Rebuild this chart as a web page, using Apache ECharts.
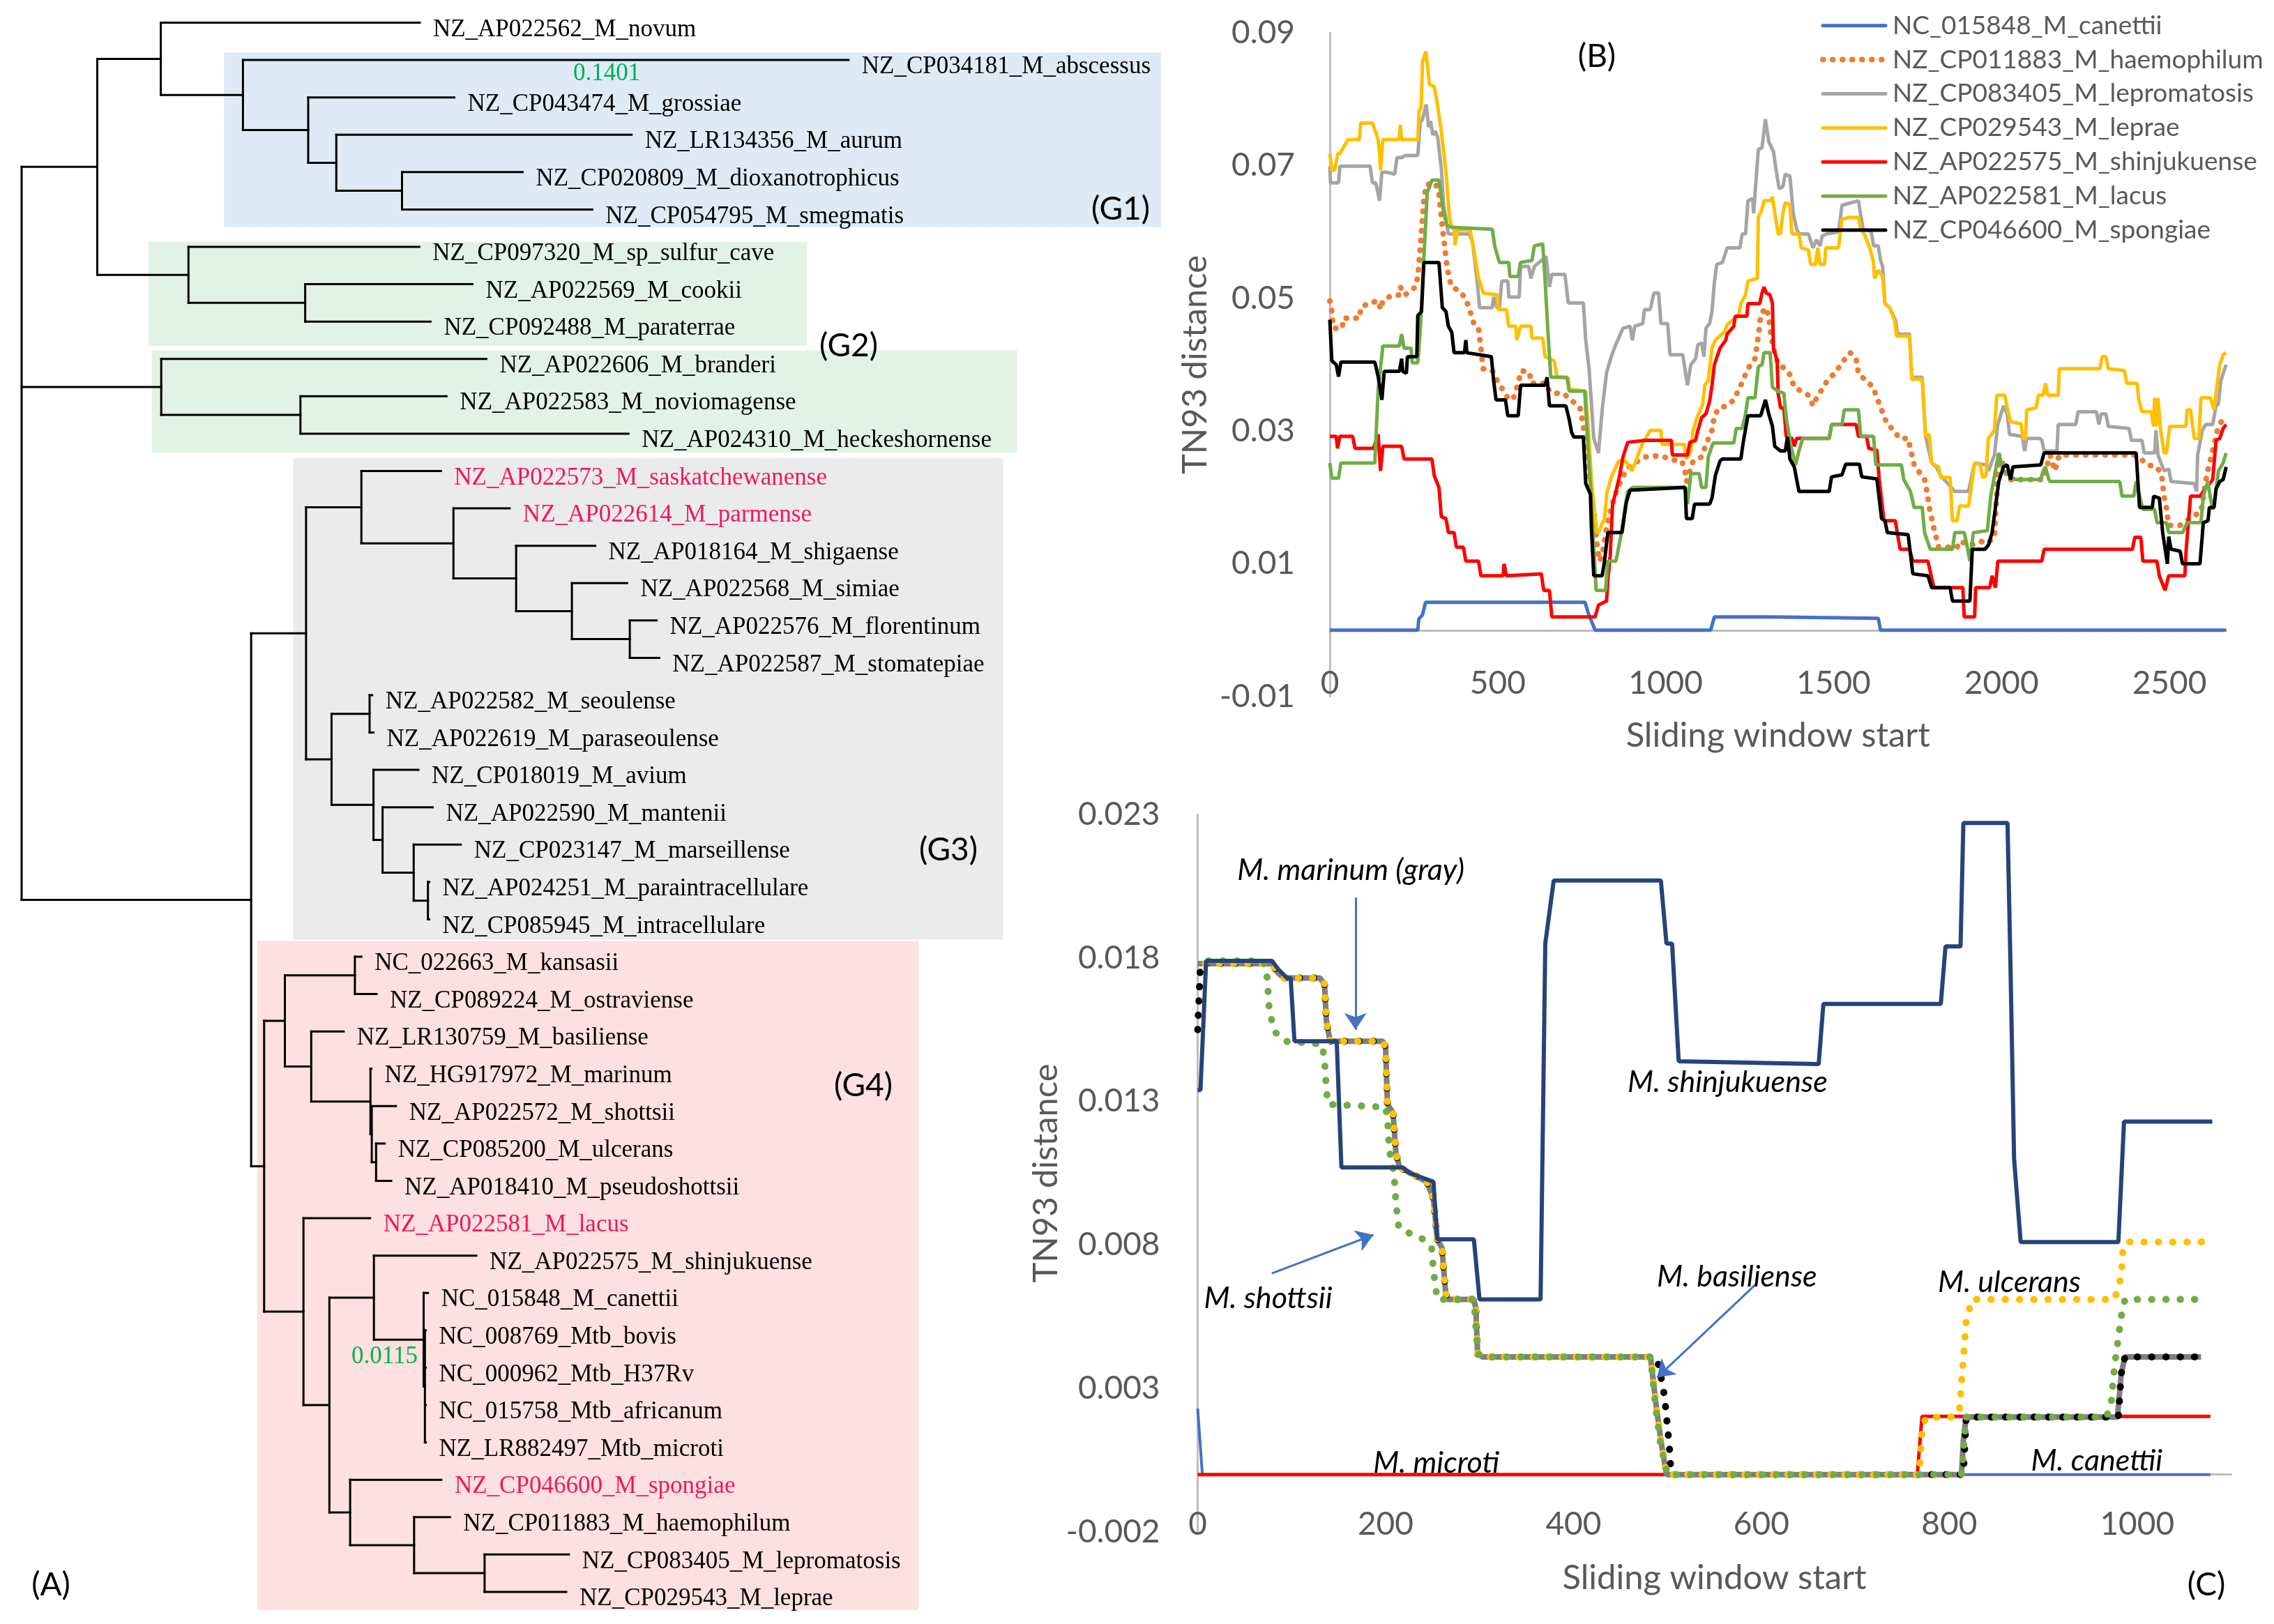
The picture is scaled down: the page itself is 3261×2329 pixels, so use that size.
<!DOCTYPE html>
<html><head><meta charset="utf-8">
<script src="https://cdn.jsdelivr.net/npm/echarts@6/dist/echarts.min.js"></script>
<style>html,body{margin:0;padding:0;background:#fff}#c{width:3261px;height:2329px}</style>
</head><body><div id="c"></div>
<script>
// ---------------- Panel A: tree (branch lengths) ----------------
const treeNewick = "(((NZ_AP022562_M_novum:0.0599,(NZ_CP034181_M_abscessus:0.1401,(NZ_CP043474_M_grossiae:0.0338,(NZ_LR134356_M_aurum:0.0683,(NZ_CP020809_M_dioxanotrophicus:0.0279,NZ_CP054795_M_smegmatis:0.0440):0.0152):0.0065):0.0151):0.0190):0.0147,(NZ_CP097320_M_sp_sulfur_cave:0.0534,(NZ_AP022569_M_cookii:0.0387,NZ_CP092488_M_paraterrae:0.0290):0.0270):0.0211):0.0175,(NZ_AP022606_M_branderi:0.0752,(NZ_AP022583_M_noviomagense:0.0338,NZ_AP024310_M_heckeshornense:0.0759):0.0322):0.0323,(((NZ_AP022573_M_saskatchewanense:0.0184,(NZ_AP022614_M_parmense:0.0130,(NZ_AP018164_M_shigaense:0.0183,(NZ_AP022568_M_simiae:0.0128,(NZ_AP022576_M_florentinum:0.0062,NZ_AP022587_M_stomatepiae:0.0068):0.0134):0.0129):0.0145):0.0213):0.0128,((NZ_AP022582_M_seoulense:0.0006,NZ_AP022619_M_paraseoulense:0.0009):0.0088,(NZ_CP018019_M_avium:0.0104,(NZ_AP022590_M_mantenii:0.0116,(NZ_CP023147_M_marseillense:0.0109,(NZ_AP024251_M_paraintracellulare:0.0003,NZ_CP085945_M_intracellulare:0.0003):0.0033):0.0072):0.0021):0.0097):0.0059):0.0127,(((NC_022663_M_kansasii:0.0015,NZ_CP089224_M_ostraviense:0.0050):0.0162,(NZ_LR130759_M_basiliense:0.0075,(NZ_HG917972_M_marinum:0.0002,(NZ_AP022572_M_shottsii:0.0056,(NZ_CP085200_M_ulcerans:0.0020,NZ_AP018410_M_pseudoshottsii:0.0035):0.0010):0.0003):0.0137):0.0061):0.0048,(NZ_AP022581_M_lacus:0.0154,((NZ_AP022575_M_shinjukuense:0.0237,(NC_015848_M_canettii:0.0010,(NC_008769_Mtb_bovis:0.0002,NC_000962_Mtb_H37Rv:0.0002,NC_015758_Mtb_africanum:0.0002,NZ_LR882497_Mtb_microti:0.0002):0.0003):0.0115):0.0103,(NZ_CP046600_M_spongiae:0.0211,(NZ_CP011883_M_haemophilum:0.0083,(NZ_CP083405_M_lepromatosis:0.0195,NZ_CP029543_M_leprae:0.0189):0.0163):0.0148):0.0048):0.0060):0.0091):0.0030):0.0531);";
const redLeaves = ["NZ_AP022573_M_saskatchewanense","NZ_AP022614_M_parmense","NZ_AP022581_M_lacus","NZ_CP046600_M_spongiae"];
// group boxes: [x from, x to (branch-length units), first row, last row]
const groupBoxes = [
  [0.0468, 0.2636, 0.80, 5.47],
  [0.0293, 0.1817, 5.87, 8.65],
  [0.0301, 0.2303, 8.77, 11.51],
  [0.0628, 0.2271, 11.66, 24.54],
  [0.0545, 0.2075, 24.58, 42.48]
];
const groupColors = ['#DEEBF7','#E1F3E7','#E1F3E7','#EBEBEB','#FDE0E0'];

// ---------------- Panel B ----------------
const bCanettii = [[0,0],[262,0],[265,0.0017],[276,0.0023],[285,0.0042],[760,0.0042],[770,0.0025],[790,0],[1134,0],[1145,0.0020],[1320,0.0020],[1322,0.0018],[1633,0.0018],[1640,0],[2669,0]];
const bHaemophilum = [[0,0.0496],[6,0.0480],[9,0.0465],[12,0.0455],[37,0.0455],[40,0.0470],[89,0.0470],[92,0.0486],[117,0.0493],[144,0.0496],[151,0.0483],[158,0.0496],[165,0.0499],[183,0.0504],[207,0.0505],[210,0.0517],[224,0.0505],[255,0.0517],[262,0.0533],[269,0.0573],[276,0.0622],[280,0.0647],[287,0.0671],[314,0.0674],[325,0.0659],[332,0.0622],[339,0.0591],[346,0.0560],[349,0.0548],[356,0.0529],[363,0.0517],[387,0.0511],[401,0.0502],[415,0.0486],[418,0.0480],[429,0.0462],[443,0.0455],[446,0.0440],[450,0.0425],[453,0.0409],[457,0.0394],[484,0.0391],[502,0.0372],[519,0.0360],[533,0.0347],[547,0.0350],[557,0.0366],[571,0.0391],[595,0.0388],[599,0.0372],[644,0.0372],[654,0.0360],[668,0.0357],[693,0.0357],[713,0.0350],[731,0.0341],[745,0.0335],[755,0.0308],[769,0.0246],[786,0.0178],[797,0.0122],[804,0.0104],[814,0.0122],[824,0.0153],[835,0.0178],[849,0.0203],[866,0.0224],[883,0.0243],[908,0.0252],[939,0.0261],[982,0.0263],[1034,0.0255],[1048,0.0255],[1058,0.0240],[1062,0.0224],[1082,0.0255],[1107,0.0261],[1120,0.0280],[1138,0.0301],[1145,0.0323],[1159,0.0335],[1183,0.0338],[1203,0.0347],[1224,0.0369],[1245,0.0394],[1266,0.0409],[1276,0.0443],[1283,0.0474],[1297,0.0486],[1307,0.0474],[1314,0.0443],[1321,0.0425],[1335,0.0400],[1356,0.0394],[1370,0.0385],[1383,0.0366],[1425,0.0354],[1439,0.0338],[1453,0.0354],[1466,0.0363],[1480,0.0375],[1508,0.0390],[1525,0.0403],[1549,0.0418],[1567,0.0409],[1574,0.0387],[1598,0.0375],[1619,0.0366],[1626,0.0354],[1643,0.0332],[1660,0.0310],[1681,0.0301],[1695,0.0289],[1722,0.0289],[1729,0.0273],[1740,0.0249],[1771,0.0227],[1778,0.0209],[1785,0.0185],[1799,0.0153],[1813,0.0125],[1868,0.0125],[1875,0.0134],[1909,0.0128],[1937,0.0134],[1958,0.0131],[1979,0.0140],[1992,0.0264],[2006,0.0249],[2020,0.0227],[2124,0.0227],[2131,0.0240],[2145,0.0264],[2159,0.0240],[2172,0.0264],[2394,0.0264],[2415,0.0258],[2435,0.0249],[2463,0.0246],[2477,0.0233],[2484,0.0202],[2491,0.0184],[2498,0.0158],[2532,0.0158],[2567,0.0171],[2594,0.0178],[2612,0.0236],[2626,0.0264],[2643,0.0301],[2657,0.0317],[2669,0.0317]];
const bLepromatosis = [[0,0.0699],[2,0.0674],[26,0.0674],[30,0.0699],[120,0.0699],[127,0.0674],[137,0.0674],[148,0.0647],[155,0.0690],[169,0.0690],[193,0.0687],[200,0.0712],[214,0.0712],[224,0.0715],[262,0.0715],[269,0.0764],[276,0.0770],[287,0.0792],[294,0.0758],[300,0.0767],[307,0.0746],[314,0.0752],[321,0.0743],[332,0.0696],[339,0.0640],[349,0.0610],[353,0.0597],[415,0.0597],[425,0.0585],[439,0.0524],[446,0.0486],[484,0.0486],[488,0.0502],[498,0.0486],[505,0.0486],[512,0.0526],[530,0.0526],[533,0.0502],[564,0.0502],[568,0.0548],[592,0.0548],[599,0.0530],[609,0.0548],[644,0.0563],[654,0.0517],[661,0.0536],[700,0.0536],[710,0.0493],[755,0.0493],[762,0.0437],[772,0.0394],[786,0.0289],[800,0.0267],[811,0.0332],[824,0.0388],[838,0.0412],[852,0.0431],[873,0.0455],[894,0.0458],[901,0.0437],[908,0.0458],[932,0.0462],[937,0.0483],[954,0.0483],[965,0.0508],[979,0.0508],[986,0.0462],[1006,0.0462],[1013,0.0415],[1051,0.0415],[1065,0.0369],[1075,0.0400],[1089,0.0409],[1096,0.0430],[1107,0.0433],[1114,0.0412],[1120,0.0455],[1131,0.0462],[1138,0.0480],[1145,0.0524],[1152,0.0551],[1169,0.0554],[1183,0.0576],[1221,0.0576],[1228,0.0597],[1238,0.0597],[1245,0.0647],[1259,0.0650],[1262,0.0628],[1269,0.0677],[1276,0.0724],[1287,0.0727],[1297,0.0770],[1307,0.0736],[1321,0.0721],[1328,0.0696],[1338,0.0665],[1349,0.0668],[1356,0.0687],[1370,0.0684],[1380,0.0628],[1390,0.0604],[1397,0.0597],[1425,0.0597],[1439,0.0576],[1449,0.0588],[1460,0.0579],[1466,0.0594],[1480,0.0597],[1515,0.0600],[1525,0.0640],[1574,0.0647],[1581,0.0625],[1588,0.0604],[1612,0.0601],[1619,0.0579],[1633,0.0579],[1640,0.0557],[1646,0.0548],[1653,0.0492],[1667,0.0486],[1684,0.0467],[1691,0.0446],[1726,0.0446],[1733,0.0381],[1764,0.0381],[1774,0.0292],[1792,0.0252],[1806,0.0246],[1819,0.0233],[1861,0.0209],[1902,0.0209],[1920,0.0252],[1954,0.0249],[1961,0.0240],[1979,0.0264],[1989,0.0310],[2006,0.0338],[2017,0.0326],[2024,0.0295],[2062,0.0292],[2069,0.0270],[2075,0.0289],[2114,0.0289],[2120,0.0286],[2127,0.0270],[2165,0.0270],[2169,0.0310],[2221,0.0310],[2228,0.0329],[2283,0.0329],[2290,0.0310],[2297,0.0326],[2311,0.0326],[2318,0.0307],[2380,0.0304],[2387,0.0286],[2418,0.0286],[2425,0.0267],[2456,0.0267],[2460,0.0301],[2466,0.0264],[2484,0.0240],[2498,0.0243],[2505,0.0224],[2574,0.0221],[2581,0.0209],[2584,0.0264],[2598,0.0301],[2608,0.0310],[2629,0.0310],[2639,0.0338],[2646,0.0341],[2653,0.0375],[2664,0.0393],[2669,0.0400]];
const bLeprae = [[0,0.0718],[6,0.0693],[14,0.0693],[24,0.0718],[30,0.0718],[54,0.0739],[88,0.0739],[92,0.0764],[127,0.0764],[144,0.0739],[148,0.0720],[151,0.0693],[158,0.0739],[206,0.0739],[210,0.0761],[214,0.0739],[262,0.0739],[266,0.0782],[272,0.0788],[276,0.0856],[286,0.0872],[297,0.0822],[311,0.0819],[318,0.0800],[332,0.0752],[346,0.0690],[356,0.0622],[363,0.0607],[370,0.0607],[373,0.0580],[380,0.0603],[418,0.0603],[429,0.0573],[443,0.0530],[457,0.0508],[498,0.0505],[502,0.0483],[526,0.0483],[533,0.0458],[554,0.0458],[557,0.0437],[568,0.0458],[599,0.0458],[602,0.0440],[634,0.0440],[641,0.0412],[668,0.0406],[675,0.0385],[680,0.0381],[710,0.0380],[713,0.0363],[762,0.0360],[770,0.0300],[780,0.0220],[794,0.0147],[800,0.0148],[818,0.0168],[825,0.0208],[840,0.0233],[860,0.0255],[880,0.0255],[900,0.0240],[911,0.0255],[930,0.0280],[954,0.0301],[986,0.0301],[989,0.0280],[1055,0.0280],[1062,0.0258],[1075,0.0270],[1082,0.0301],[1093,0.0320],[1110,0.0340],[1117,0.0370],[1127,0.0376],[1138,0.0425],[1148,0.0437],[1176,0.0450],[1183,0.0460],[1203,0.0469],[1217,0.0474],[1224,0.0492],[1238,0.0505],[1245,0.0526],[1273,0.0530],[1276,0.0622],[1287,0.0634],[1293,0.0647],[1314,0.0647],[1318,0.0653],[1325,0.0628],[1335,0.0597],[1342,0.0597],[1349,0.0628],[1356,0.0644],[1370,0.0641],[1376,0.0597],[1397,0.0597],[1404,0.0576],[1425,0.0573],[1432,0.0551],[1446,0.0551],[1453,0.0576],[1460,0.0551],[1473,0.0551],[1477,0.0576],[1515,0.0576],[1525,0.0619],[1549,0.0622],[1574,0.0622],[1581,0.0604],[1591,0.0597],[1608,0.0576],[1619,0.0554],[1622,0.0530],[1633,0.0542],[1646,0.0533],[1653,0.0492],[1667,0.0486],[1681,0.0467],[1688,0.0443],[1726,0.0443],[1733,0.0378],[1764,0.0378],[1774,0.0292],[1785,0.0295],[1792,0.0252],[1813,0.0246],[1819,0.0230],[1847,0.0230],[1854,0.0165],[1868,0.0165],[1875,0.0187],[1902,0.0187],[1920,0.0252],[1937,0.0249],[1944,0.0230],[1954,0.0233],[1961,0.0289],[1979,0.0301],[1986,0.0354],[2010,0.0354],[2017,0.0335],[2027,0.0314],[2058,0.0311],[2065,0.0289],[2072,0.0289],[2075,0.0332],[2103,0.0335],[2110,0.0354],[2124,0.0354],[2131,0.0372],[2138,0.0354],[2169,0.0354],[2172,0.0394],[2293,0.0394],[2300,0.0412],[2311,0.0412],[2318,0.0394],[2366,0.0391],[2373,0.0372],[2404,0.0372],[2408,0.0350],[2418,0.0329],[2446,0.0329],[2453,0.0307],[2456,0.0350],[2460,0.0307],[2466,0.0350],[2473,0.0304],[2484,0.0267],[2491,0.0267],[2501,0.0307],[2549,0.0307],[2553,0.0332],[2563,0.0332],[2574,0.0289],[2588,0.0289],[2594,0.0350],[2622,0.0350],[2633,0.0332],[2639,0.0357],[2650,0.0400],[2660,0.0415],[2669,0.0418]];
const bShinjukuense = [[0,0.0292],[19,0.0292],[23,0.0274],[30,0.0292],[68,0.0292],[75,0.0274],[130,0.0274],[144,0.0295],[151,0.0240],[158,0.0277],[214,0.0277],[221,0.0258],[304,0.0258],[311,0.0233],[325,0.0215],[332,0.0171],[346,0.0168],[353,0.0147],[370,0.0147],[377,0.0125],[398,0.0125],[405,0.0104],[443,0.0104],[450,0.0082],[516,0.0082],[519,0.0100],[526,0.0082],[630,0.0085],[637,0.0060],[654,0.0060],[661,0.0020],[790,0.0020],[800,0.0038],[824,0.0044],[828,0.0076],[835,0.0113],[842,0.0190],[852,0.0209],[863,0.0233],[873,0.0261],[887,0.0283],[939,0.0286],[1017,0.0286],[1020,0.0264],[1065,0.0264],[1072,0.0283],[1089,0.0286],[1096,0.0301],[1107,0.0320],[1120,0.0326],[1131,0.0345],[1138,0.0369],[1145,0.0400],[1162,0.0425],[1179,0.0437],[1183,0.0446],[1203,0.0458],[1207,0.0473],[1242,0.0473],[1245,0.0492],[1280,0.0492],[1287,0.0508],[1293,0.0517],[1300,0.0508],[1311,0.0505],[1318,0.0492],[1321,0.0425],[1332,0.0406],[1335,0.0357],[1342,0.0335],[1352,0.0335],[1359,0.0292],[1376,0.0289],[1383,0.0277],[1390,0.0289],[1487,0.0289],[1494,0.0310],[1567,0.0310],[1574,0.0292],[1598,0.0292],[1605,0.0274],[1629,0.0271],[1636,0.0227],[1650,0.0165],[1684,0.0165],[1691,0.0143],[1698,0.0122],[1726,0.0122],[1736,0.0104],[1781,0.0104],[1792,0.0079],[1799,0.0064],[1885,0.0064],[1889,0.0020],[1920,0.0020],[1923,0.0064],[1965,0.0064],[1972,0.0082],[1982,0.0064],[1989,0.0104],[2120,0.0104],[2127,0.0122],[2390,0.0122],[2397,0.0140],[2415,0.0140],[2421,0.0104],[2463,0.0104],[2470,0.0082],[2487,0.0060],[2498,0.0082],[2546,0.0082],[2550,0.0122],[2563,0.0202],[2591,0.0202],[2629,0.0227],[2639,0.0286],[2650,0.0289],[2660,0.0304],[2669,0.0310]];
const bLacus = [[0,0.0252],[6,0.0229],[26,0.0229],[33,0.0252],[134,0.0252],[144,0.0363],[158,0.0428],[207,0.0428],[214,0.0446],[221,0.0425],[242,0.0425],[245,0.0403],[262,0.0403],[269,0.0450],[280,0.0560],[290,0.0659],[304,0.0678],[325,0.0678],[339,0.0629],[349,0.0610],[363,0.0607],[484,0.0604],[491,0.0579],[505,0.0554],[533,0.0554],[536,0.0533],[561,0.0533],[568,0.0554],[602,0.0557],[609,0.0579],[634,0.0582],[640,0.0536],[651,0.0437],[658,0.0381],[706,0.0381],[713,0.0360],[759,0.0360],[766,0.0301],[776,0.0218],[793,0.0060],[821,0.0060],[828,0.0104],[852,0.0104],[866,0.0140],[877,0.0178],[887,0.0209],[901,0.0215],[1058,0.0215],[1065,0.0190],[1075,0.0236],[1100,0.0236],[1107,0.0215],[1120,0.0215],[1127,0.0261],[1141,0.0282],[1203,0.0282],[1210,0.0304],[1228,0.0304],[1238,0.0326],[1245,0.0350],[1266,0.0350],[1276,0.0397],[1287,0.0400],[1293,0.0418],[1311,0.0418],[1318,0.0366],[1335,0.0360],[1352,0.0357],[1359,0.0320],[1373,0.0277],[1387,0.0249],[1397,0.0270],[1408,0.0289],[1487,0.0289],[1494,0.0310],[1525,0.0310],[1532,0.0332],[1574,0.0332],[1581,0.0292],[1619,0.0292],[1626,0.0249],[1702,0.0249],[1709,0.0227],[1729,0.0209],[1740,0.0185],[1764,0.0185],[1771,0.0147],[1788,0.0122],[1854,0.0122],[1861,0.0147],[1889,0.0147],[1896,0.0131],[1906,0.0104],[1916,0.0147],[1958,0.0150],[1968,0.0202],[1982,0.0240],[1992,0.0267],[1999,0.0252],[2006,0.0240],[2041,0.0227],[2117,0.0227],[2124,0.0240],[2131,0.0246],[2141,0.0227],[2145,0.0224],[2352,0.0224],[2359,0.0202],[2394,0.0202],[2401,0.0224],[2421,0.0182],[2456,0.0182],[2463,0.0162],[2491,0.0162],[2498,0.0147],[2539,0.0147],[2553,0.0162],[2594,0.0162],[2601,0.0202],[2615,0.0224],[2622,0.0199],[2629,0.0182],[2636,0.0202],[2646,0.0240],[2660,0.0252],[2669,0.0267]];
const bSpongiae = [[0,0.0468],[6,0.0406],[19,0.0400],[26,0.0382],[33,0.0404],[134,0.0404],[144,0.0382],[155,0.0347],[162,0.0390],[207,0.0390],[214,0.0409],[217,0.0390],[228,0.0387],[231,0.0412],[259,0.0412],[262,0.0474],[273,0.0480],[280,0.0554],[325,0.0554],[335,0.0486],[346,0.0480],[353,0.0458],[363,0.0449],[370,0.0418],[401,0.0418],[405,0.0437],[408,0.0418],[481,0.0412],[488,0.0375],[495,0.0347],[523,0.0347],[530,0.0323],[561,0.0323],[568,0.0369],[641,0.0369],[647,0.0381],[654,0.0338],[703,0.0338],[713,0.0317],[720,0.0298],[727,0.0291],[755,0.0291],[762,0.0221],[776,0.0205],[779,0.0153],[786,0.0082],[811,0.0082],[818,0.0104],[828,0.0147],[870,0.0147],[883,0.0193],[894,0.0211],[1058,0.0215],[1062,0.0168],[1079,0.0168],[1086,0.0190],[1131,0.0190],[1138,0.0199],[1148,0.0233],[1162,0.0255],[1169,0.0258],[1224,0.0258],[1231,0.0283],[1245,0.0323],[1283,0.0323],[1297,0.0347],[1307,0.0326],[1318,0.0307],[1325,0.0277],[1342,0.0270],[1356,0.0270],[1363,0.0291],[1370,0.0258],[1383,0.0246],[1397,0.0209],[1487,0.0209],[1494,0.0231],[1525,0.0234],[1536,0.0250],[1577,0.0250],[1584,0.0231],[1629,0.0228],[1643,0.0168],[1653,0.0165],[1660,0.0147],[1722,0.0144],[1736,0.0085],[1781,0.0082],[1792,0.0064],[1847,0.0064],[1854,0.0044],[1906,0.0044],[1913,0.0122],[1951,0.0122],[1961,0.0128],[1972,0.0147],[1982,0.0185],[1992,0.0224],[2006,0.0246],[2017,0.0249],[2027,0.0227],[2034,0.0246],[2117,0.0249],[2127,0.0267],[2401,0.0267],[2411,0.0185],[2449,0.0185],[2453,0.0202],[2470,0.0199],[2480,0.0147],[2494,0.0100],[2498,0.0141],[2505,0.0122],[2532,0.0119],[2539,0.0100],[2591,0.0100],[2601,0.0162],[2615,0.0165],[2619,0.0185],[2633,0.0185],[2639,0.0213],[2650,0.0224],[2660,0.0227],[2669,0.0246]];
const bYTicks = [-0.01, 0.09, 0.02];   // min, max, step
const bXTicks = [0, 2669, 500];

// ---------------- Panel C ----------------
const cShinjukuense = [[0,0.0134],[3,0.0134],[9,0.0179],[79,0.0179],[86,0.0176],[95,0.0173],[99,0.0173],[103,0.0151],[148,0.0151],[153,0.0107],[218,0.0107],[226,0.0105],[251,0.0102],[255,0.0082],[294,0.0082],[300,0.0061],[365,0.0061],[370,0.0185],[379,0.0207],[493,0.0207],[499,0.0185],[505,0.0185],[512,0.0144],[661,0.0143],[666,0.0164],[791,0.0164],[796,0.0184],[812,0.0184],[815,0.0227],[862,0.0227],[865,0.0180],[869,0.0110],[876,0.0081],[980,0.0081],[986,0.0123],[1080,0.0123]];
const cCanettii = [[0,0.0023],[5,0],[1078,0]];
const cMicroti = [[0,0],[766,0],[771,0.00203],[1078,0.00203]];
const cMarinum = [[0,0.0178],[79,0.0178],[85,0.0175],[92,0.0173],[130,0.0173],[135,0.0171],[137,0.0158],[141,0.0151],[197,0.0151],[200,0.0149],[202,0.0129],[208,0.0126],[211,0.0112],[215,0.0107],[244,0.0102],[251,0.0096],[255,0.0082],[260,0.0079],[264,0.0063],[266,0.0061],[294,0.0061],[296,0.0058],[298,0.0042],[303,0.0041],[482,0.0041],[488,0.0024],[493,0.0012],[499,0],[813,0],[815,0.0012],[818,0.0020],[979,0.0020],[983,0.0035],[987,0.0041],[1068,0.0041]];
const cBasiliense = [[0,0.0155],[3,0.0178],[79,0.0178],[85,0.0175],[92,0.0173],[130,0.0173],[135,0.0171],[137,0.0158],[141,0.0151],[197,0.0151],[200,0.0149],[202,0.0129],[208,0.0126],[211,0.0112],[215,0.0107],[244,0.0102],[251,0.0096],[255,0.0082],[260,0.0079],[264,0.0063],[266,0.0061],[294,0.0061],[296,0.0058],[298,0.0042],[303,0.0041],[486,0.0041],[491,0.0038],[497,0.0027],[502,0.0010],[504,0],[815,0],[818,0.0020],[980,0.0020],[983,0.0035],[987,0.0041],[1075,0.0041]];
const cUlcerans = [[0,0.0178],[79,0.0178],[85,0.0175],[92,0.0173],[130,0.0173],[135,0.0171],[137,0.0158],[141,0.0151],[197,0.0151],[200,0.0149],[202,0.0129],[208,0.0126],[211,0.0112],[215,0.0107],[244,0.0102],[251,0.0096],[255,0.0082],[260,0.0079],[264,0.0063],[266,0.0061],[294,0.0061],[296,0.0058],[298,0.0042],[303,0.0041],[482,0.0041],[488,0.0024],[493,0.0012],[499,0],[768,0],[771,0.0015],[775,0.0020],[806,0.0020],[811,0.0023],[813,0.0032],[818,0.0053],[824,0.0061],[976,0.0061],[983,0.0069],[985,0.0079],[990,0.0081],[1073,0.0081]];
const cShottsii = [[0,0.0179],[70,0.0179],[74,0.0173],[76,0.0163],[79,0.0158],[83,0.0154],[92,0.0151],[132,0.0150],[135,0.0145],[137,0.0134],[139,0.0129],[200,0.0128],[202,0.0124],[204,0.0113],[209,0.0105],[211,0.0095],[214,0.0086],[226,0.0084],[240,0.0082],[249,0.0079],[251,0.0071],[255,0.0061],[294,0.0061],[296,0.0052],[299,0.0042],[303,0.0041],[482,0.0041],[488,0.0022],[493,0.0010],[500,0],[813,0],[815,0.0008],[817,0.0016],[818,0.0020],[967,0.0020],[972,0.0024],[976,0.0038],[983,0.0055],[987,0.0061],[1064,0.0061]];
const cYTicks = [-0.002, 0.023, 0.005];
const cXTicks = [0, 1100, 200];
const cNotes = [['M. marinum (gray)',163,0.02106],['M. shottsii',75,0.00613],['M. basiliense',574,0.0069],['M. shinjukuense',564,0.01366],['M. ulcerans',864,0.0067],['M. microti',254,0.00041],['M. canettii',957,0.00048]];
const cArrows = [[[168,0.0201],[168,0.0155]],[[79,0.00701],[187,0.00835]],[[595,0.00666],[489,0.00338]]];

// ---------------- build tree layout ----------------
function parseNewick(str){
  const s = str.replace(/\s+/g,''); let i = 0;
  function node(){
    const n = {children:[], name:'', len:0};
    if (s[i] === '('){ i++; n.children.push(node()); while (s[i] === ','){ i++; n.children.push(node()); } i++; }
    let name=''; while (i < s.length && ',():;'.indexOf(s[i]) < 0) name += s[i++];
    n.name = name;
    if (s[i] === ':'){ i++; let num=''; while (i < s.length && ',();'.indexOf(s[i]) < 0) num += s[i++]; n.len = parseFloat(num); }
    return n;
  }
  return node();
}
const leafNames = [];
const treeItems = [];
(function layout(){
  const root = parseNewick(treeNewick);
  function walk(n, px){
    n.x = px + n.len;
    if (!n.children.length){ n.y = leafNames.length; n.leaf = leafNames.length; leafNames.push(n.name); }
    else { n.children.forEach(c => walk(c, n.x)); n.y = (n.children[0].y + n.children[n.children.length-1].y)/2; }
    const yMin = n.children.length ? n.children[0].y : n.y;
    const yMax = n.children.length ? n.children[n.children.length-1].y : n.y;
    treeItems.push([px, n.x, n.y, yMin, yMax, n.children.length ? -1 : n.leaf]);
  }
  root.len = 0; walk(root, 0);
})();

const chart = echarts.init(document.getElementById('c'), null, {renderer:'canvas', width:3261, height:2329, devicePixelRatio:1});
const gray = '#595959', font = 'Lato';
const fmt = d => (v => { const s = v.toFixed(d); return s === '-0.' + '0'.repeat(d) ? (0).toFixed(d) : s; });
const plain = v => String(Math.round(v));

function lineSeries(name, data, color, width, xi, yi, extra){
  return Object.assign({type:'line', name, data, xAxisIndex:xi, yAxisIndex:yi, symbol:'none', showSymbol:false,
    lineStyle:{color, width}, itemStyle:{color}, animation:false, z:3}, extra || {});
}
const dotB = {type:[0.5,13.5], cap:'round'};
const bSeriesList = [
  lineSeries('NC_015848_M_canettii', bCanettii, '#4472C4', 5, 1, 1),
  lineSeries('NZ_CP011883_M_haemophilum', bHaemophilum, '#ED7D31', 8, 1, 1, {lineStyle:Object.assign({color:'#ED7D31', width:8}, dotB)}),
  lineSeries('NZ_CP083405_M_lepromatosis', bLepromatosis, '#A5A5A5', 5, 1, 1),
  lineSeries('NZ_CP029543_M_leprae', bLeprae, '#FFC000', 5, 1, 1),
  lineSeries('NZ_AP022575_M_shinjukuense', bShinjukuense, '#FF0000', 5, 1, 1),
  lineSeries('NZ_AP022581_M_lacus', bLacus, '#70AD47', 5, 1, 1),
  lineSeries('NZ_CP046600_M_spongiae', bSpongiae, '#000000', 5, 1, 1)
];
const dotC = (c, off) => ({color:c, width:10, type:[0.5,20], cap:'round', dashOffset:off});
const cSeriesList = [
  lineSeries('C canettii', cCanettii, '#4472C4', 4, 3, 2),
  lineSeries('C microti', cMicroti, '#FF0000', 5, 3, 2),
  lineSeries('C marinum', cMarinum, '#7F7F7F', 8, 3, 2),
  lineSeries('C basiliense', cBasiliense, '#000000', 10, 3, 2, {lineStyle:dotC('#000000', 0)}),
  lineSeries('C ulcerans', cUlcerans, '#FFC000', 10, 3, 2, {lineStyle:dotC('#FFC000', 10)}),
  lineSeries('C shottsii', cShottsii, '#70AD47', 10, 3, 2, {lineStyle:dotC('#70AD47', 5)}),
  lineSeries('C shinjukuense', cShinjukuense, '#264478', 6, 3, 2)
];
const gText = (t, x, y, f, fill, align) => ({type:'text', z:100, zlevel:0, x, y,
  style:{text:t, font:f, fill:fill || '#000', align:align || 'center', verticalAlign:'middle'}});

const option = {
  animation:false,
  backgroundColor:'#ffffff',
  grid:[
    {left:31, top:32.5, width:1673.7, height:2250.4},
    {left:1907, top:47, width:1285.4, height:952},
    {left:1717.5, top:1168, width:1482, height:1029}
  ],
  xAxis:[
    {gridIndex:0, type:'value', min:0, max:0.27, show:false},
    {gridIndex:1, type:'value', min:bXTicks[0], max:bXTicks[1], position:'bottom',
      axisLine:{show:true, onZero:true, lineStyle:{color:'#BFBFBF', width:3}}, axisTick:{show:false}, axisLabel:{show:false}, splitLine:{show:false}},
    {gridIndex:1, type:'value', min:bXTicks[0], max:bXTicks[1], interval:bXTicks[2], position:'bottom',
      axisLine:{show:false, onZero:false}, axisTick:{show:false}, splitLine:{show:false},
      axisLabel:{margin:-42, showMaxLabel:false, color:gray, fontSize:46, fontFamily:font, formatter:plain},
      name:'Sliding window start', nameLocation:'middle', nameGap:32, nameTextStyle:{color:gray, fontSize:49, fontFamily:font}},
    {gridIndex:2, type:'value', min:cXTicks[0], max:cXTicks[1], position:'bottom',
      axisLine:{show:true, onZero:true, lineStyle:{color:'#BFBFBF', width:3}}, axisTick:{show:false}, axisLabel:{show:false}, splitLine:{show:false}},
    {gridIndex:2, type:'value', min:cXTicks[0], max:cXTicks[1], interval:cXTicks[2], position:'bottom',
      axisLine:{show:false, onZero:false}, axisTick:{show:false}, splitLine:{show:false},
      axisLabel:{margin:-34, showMaxLabel:false, color:gray, fontSize:46, fontFamily:font, formatter:plain},
      name:'Sliding window start', nameLocation:'middle', nameGap:42, nameTextStyle:{color:gray, fontSize:49, fontFamily:font}}
  ],
  yAxis:[
    {gridIndex:0, type:'value', min:0, max:42, inverse:true, show:false},
    {gridIndex:1, type:'value', min:bYTicks[0], max:bYTicks[1], interval:bYTicks[2],
      axisLine:{show:true, lineStyle:{color:'#BFBFBF', width:3}}, axisTick:{show:false}, splitLine:{show:false},
      axisLabel:{margin:50, color:gray, fontSize:46, fontFamily:font, formatter:fmt(2)},
      name:'TN93 distance', nameLocation:'middle', nameGap:168, nameTextStyle:{color:gray, fontSize:49, fontFamily:font}},
    {gridIndex:2, type:'value', min:cYTicks[0], max:cYTicks[1], interval:cYTicks[2],
      axisLine:{show:true, lineStyle:{color:'#BFBFBF', width:3}}, axisTick:{show:false}, splitLine:{show:false},
      axisLabel:{margin:54, color:gray, fontSize:46, fontFamily:font, formatter:fmt(3)},
      name:'TN93 distance', nameLocation:'middle', nameGap:173, nameTextStyle:{color:gray, fontSize:49, fontFamily:font}}
  ],
  legend:{
    data:bSeriesList.map(s => ({name:s.name, itemStyle:{opacity:0},
      lineStyle:{width:s.lineStyle.width, color:s.lineStyle.color, type:s.lineStyle.type || 'solid', cap:'round'}})),
    orient:'vertical', left:2605, top:11.7,
    itemWidth:90, itemHeight:20, itemGap:8.9,
    textStyle:{color:gray, fontSize:37, fontFamily:font, lineHeight:40, padding:[0,0,0,5]}
  },
  graphic:[
    gText('(A)', 73, 2273, '46px Lato'),
    gText('(B)', 2290, 81, '46px Lato'),
    gText('(C)', 3164, 2273, '46px Lato'),
    gText('(G1)', 1607, 300, '46px Lato'),
    gText('(G2)', 1217, 496, '46px Lato'),
    gText('(G3)', 1360, 1219, '46px Lato'),
    gText('(G4)', 1238, 1557, '46px Lato'),
    gText('0.1401', 870, 106, '35px "Liberation Serif"', '#00B050'),
    gText('0.0115', 599, 1946, '35px "Liberation Serif"', '#00B050', 'right')
  ],
  series:[
    {type:'custom', xAxisIndex:0, yAxisIndex:0, z:1, zlevel:0, silent:true, data:groupBoxes.map((g,i)=>g.concat([i])),
      encode:{x:[0,1], y:[2,3]},
      renderItem:(p, api) => {
        const a = api.coord([api.value(0), api.value(2)]), b = api.coord([api.value(1), api.value(3)]);
        return {type:'rect', shape:{x:a[0], y:a[1], width:b[0]-a[0], height:b[1]-a[1]}, style:{fill:groupColors[api.value(4)]}};
      }},
    {type:'custom', xAxisIndex:0, yAxisIndex:0, z:2, silent:true, data:treeItems,
      encode:{x:[0,1], y:[2,3,4]},
      renderItem:(p, api) => {
        const x0 = api.value(0), x1 = api.value(1), y = api.value(2), li = api.value(5);
        const a = api.coord([x0, y]), b = api.coord([x1, y]);
        const st = {stroke:'#000', lineWidth:3, lineCap:'square'};
        const ch = [{type:'line', shape:{x1:a[0], y1:a[1], x2:b[0], y2:b[1]}, style:st}];
        if (li < 0){
          const c = api.coord([x1, api.value(3)]), d = api.coord([x1, api.value(4)]);
          ch.push({type:'line', shape:{x1:c[0], y1:c[1], x2:d[0], y2:d[1]}, style:st});
        } else {
          const nm = leafNames[li];
          ch.push({type:'text', style:{text:nm, x:b[0]+19, y:b[1]+10, font:'35px "Liberation Serif"',
            fill: redLeaves.indexOf(nm) >= 0 ? '#F0185C' : '#000', align:'left', verticalAlign:'middle'}});
        }
        return {type:'group', children:ch};
      }},
    ...bSeriesList,
    ...cSeriesList,
    {type:'lines', coordinateSystem:'cartesian2d', xAxisIndex:3, yAxisIndex:2, z:5, silent:true,
      symbol:['none','arrow'], symbolSize:24,
      lineStyle:{color:'#4472C4', width:3, opacity:1, curveness:0},
      data:cArrows.map(c => ({coords:c}))},
    {type:'custom', xAxisIndex:3, yAxisIndex:2, z:6, silent:true, data:cNotes.map(n => [n[1], n[2]]),
      encode:{x:0, y:1},
      renderItem:(p, api) => {
        const c = api.coord([api.value(0), api.value(1)]);
        return {type:'text', style:{text:cNotes[p.dataIndex][0], x:c[0], y:c[1], font:'italic 43px Lato', fill:'#000', align:'center', verticalAlign:'middle'}};
      }}
  ]
};
chart.setOption(option);
</script></body></html>
